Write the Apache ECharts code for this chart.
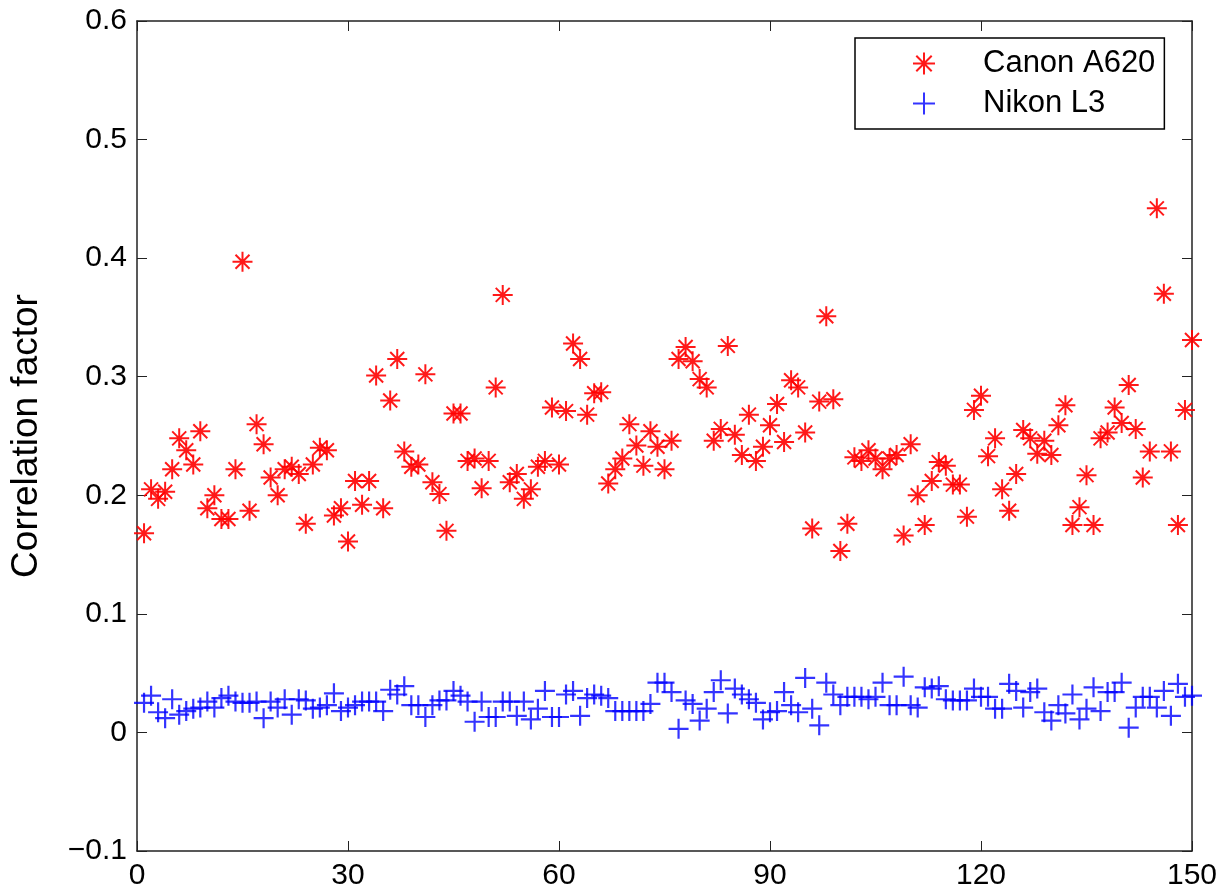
<!DOCTYPE html>
<html>
<head>
<meta charset="utf-8">
<script src="https://cdn.jsdelivr.net/npm/echarts@6/dist/echarts.min.js"></script>
<style>
html, body { margin: 0; padding: 0; background: #fff; }
#chart { width: 1221px; height: 895px; }
</style>
</head>
<body>
<div id="chart"></div>
<script>
var seriesNames = ['Canon A620', 'Nikon L3'];
var xTicks = [0, 30, 60, 90, 120, 150];
var yTicks = [-0.1, 0, 0.1, 0.2, 0.3, 0.4, 0.5, 0.6];

// correlation factor per image, image 1..150
var canonValues = [
    0.168, 0.205, 0.197, 0.203, 0.222, 0.248, 0.238, 0.226, 0.254, 0.189,
    0.200, 0.180, 0.180, 0.222, 0.397, 0.187, 0.260, 0.243, 0.215, 0.200,
    0.222, 0.224, 0.218, 0.176, 0.226, 0.240, 0.238, 0.183, 0.189, 0.161,
    0.212, 0.192, 0.212, 0.301, 0.189, 0.280, 0.315, 0.237, 0.224, 0.226,
    0.302, 0.211, 0.201, 0.170, 0.269, 0.269, 0.229, 0.231, 0.206, 0.229,
    0.291, 0.369, 0.211, 0.218, 0.197, 0.205, 0.224, 0.229, 0.274, 0.226,
    0.271, 0.328, 0.315, 0.268, 0.286, 0.287, 0.210, 0.222, 0.231, 0.260,
    0.242, 0.225, 0.254, 0.241, 0.222, 0.246, 0.315, 0.325, 0.313, 0.298,
    0.291, 0.246, 0.256, 0.326, 0.251, 0.234, 0.268, 0.229, 0.241, 0.259,
    0.277, 0.245, 0.297, 0.291, 0.253, 0.172, 0.279, 0.351, 0.281, 0.153,
    0.176, 0.232, 0.229, 0.238, 0.231, 0.222, 0.231, 0.234, 0.166, 0.243,
    0.200, 0.175, 0.212, 0.228, 0.225, 0.209, 0.209, 0.182, 0.272, 0.284,
    0.233, 0.248, 0.205, 0.187, 0.218, 0.255, 0.248, 0.235, 0.246, 0.234,
    0.259, 0.276, 0.175, 0.190, 0.217, 0.175, 0.248, 0.253, 0.274, 0.261,
    0.293, 0.256, 0.215, 0.237, 0.442, 0.370, 0.237, 0.175, 0.272, 0.331
];
var nikonValues = [
    0.025, 0.031, 0.017, 0.012, 0.028, 0.015, 0.018, 0.020, 0.021, 0.026,
    0.021, 0.029, 0.031, 0.026, 0.025, 0.025, 0.026, 0.012, 0.026, 0.021,
    0.028, 0.015, 0.028, 0.027, 0.020, 0.021, 0.023, 0.033, 0.018, 0.021,
    0.023, 0.026, 0.026, 0.026, 0.018, 0.036, 0.032, 0.039, 0.023, 0.023,
    0.013, 0.023, 0.027, 0.027, 0.035, 0.031, 0.026, 0.009, 0.026, 0.013,
    0.013, 0.026, 0.026, 0.014, 0.026, 0.011, 0.020, 0.035, 0.013, 0.013,
    0.032, 0.035, 0.014, 0.029, 0.032, 0.031, 0.029, 0.018, 0.018, 0.018,
    0.018, 0.018, 0.024, 0.042, 0.042, 0.034, 0.003, 0.027, 0.024, 0.010,
    0.020, 0.034, 0.044, 0.016, 0.037, 0.032, 0.028, 0.025, 0.011, 0.017,
    0.018, 0.034, 0.023, 0.017, 0.046, 0.020, 0.006, 0.042, 0.032, 0.023,
    0.030, 0.030, 0.030, 0.028, 0.030, 0.042, 0.023, 0.023, 0.047, 0.023,
    0.021, 0.038, 0.037, 0.039, 0.028, 0.027, 0.027, 0.027, 0.037, 0.030,
    0.030, 0.020, 0.020, 0.041, 0.035, 0.021, 0.034, 0.037, 0.017, 0.010,
    0.023, 0.016, 0.032, 0.011, 0.020, 0.038, 0.018, 0.034, 0.034, 0.042,
    0.004, 0.021, 0.030, 0.030, 0.021, 0.035, 0.014, 0.041, 0.030, 0.031
];

var fontName = '"Liberation Sans", Arial, Helvetica, sans-serif';
var starPath = 'path://M0,10L20,10M10,0L10,20M3,3L17,17M17,3L3,17';
var plusPath = 'path://M0,10L20,10M10,0L10,20';

function toPairs(values) {
    var out = [];
    for (var i = 0; i < values.length; i++) {
        out.push([i + 1, values[i]]);
    }
    return out;
}

function tickLabel(v) {
    var r = Math.round(v * 10) / 10;
    return String(r).replace('-', '\u2212');
}

var chart = echarts.init(document.getElementById('chart'), null, {renderer: 'canvas'});

var lineStyle = {color: '#222', width: 1.5};
var tickStyle = {show: true, inside: true, length: 10, lineStyle: {color: '#222', width: 1}};
var option = {
    animation: false,
    backgroundColor: '#fff',
    grid: {left: 137, right: 29, top: 21, bottom: 44, containLabel: false},
    legend: {
        orient: 'vertical',
        left: 855,
        top: 38,
        padding: [10, 9, 10, 57],
        itemWidth: 22,
        itemHeight: 22,
        itemGap: 9,
        backgroundColor: '#fff',
        borderColor: '#000',
        borderWidth: 1.5,
        borderRadius: 0,
        textStyle: {fontFamily: fontName, fontSize: 31, color: '#000', padding: [0, 0, 0, 43]},
        data: seriesNames
    },
    xAxis: [{
        type: 'value',
        min: xTicks[0],
        max: xTicks[xTicks.length - 1],
        interval: 30,
        position: 'bottom',
        splitLine: {show: false},
        axisLine: {show: true, onZero: false, lineStyle: lineStyle},
        axisTick: tickStyle,
        axisLabel: {fontFamily: fontName, fontSize: 30, color: '#000', margin: 10, formatter: tickLabel}
    }, {
        type: 'value',
        min: xTicks[0],
        max: xTicks[xTicks.length - 1],
        interval: 30,
        position: 'top',
        splitLine: {show: false},
        axisLine: {show: true, onZero: false, lineStyle: lineStyle},
        axisTick: tickStyle,
        axisLabel: {show: false}
    }],
    yAxis: [{
        type: 'value',
        min: yTicks[0],
        max: yTicks[yTicks.length - 1],
        interval: 0.1,
        position: 'left',
        name: 'Correlation factor',
        nameLocation: 'middle',
        nameGap: 92,
        nameTextStyle: {fontFamily: fontName, fontSize: 37, color: '#000'},
        splitLine: {show: false},
        axisLine: {show: true, onZero: false, lineStyle: lineStyle},
        axisTick: tickStyle,
        axisLabel: {fontFamily: fontName, fontSize: 30, color: '#000', margin: 10, formatter: tickLabel}
    }, {
        type: 'value',
        min: yTicks[0],
        max: yTicks[yTicks.length - 1],
        interval: 0.1,
        position: 'right',
        splitLine: {show: false},
        axisLine: {show: true, onZero: false, lineStyle: lineStyle},
        axisTick: tickStyle,
        axisLabel: {show: false}
    }],
    series: [{
        name: seriesNames[0],
        type: 'scatter',
        xAxisIndex: 0,
        yAxisIndex: 0,
        symbol: starPath,
        symbolSize: 20,
        silent: true,
        itemStyle: {color: '#ff0000', borderColor: '#ff0000', borderWidth: 2, opacity: 0.9},
        emphasis: {disabled: true},
        data: toPairs(canonValues)
    }, {
        name: seriesNames[1],
        type: 'scatter',
        xAxisIndex: 0,
        yAxisIndex: 0,
        symbol: plusPath,
        symbolSize: 20,
        silent: true,
        itemStyle: {color: '#0000ff', borderColor: '#0000ff', borderWidth: 2.2},
        emphasis: {disabled: true},
        data: toPairs(nikonValues)
    }]
};
chart.setOption(option);
</script>
</body>
</html>
